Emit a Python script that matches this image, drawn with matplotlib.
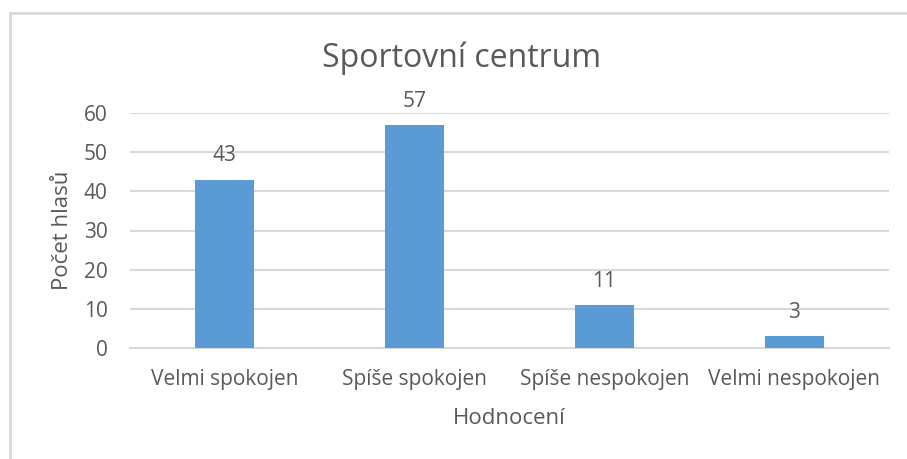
import matplotlib
matplotlib.use("Agg")
import matplotlib.pyplot as plt
from matplotlib.lines import Line2D

categories = ["Velmi spokojen", "Spíše spokojen", "Spíše nespokojen", "Velmi nespokojen"]
values = [43, 57, 11, 3]
yticks = [0, 10, 20, 30, 40, 50, 60]

plt.rcParams['font.family'] = ['Open Sans', 'DejaVu Sans']
W, H = 907, 459
fig = plt.figure(figsize=(W/100, H/100), dpi=100)
ax = fig.add_axes([130/W, 1-348/H, (889-130)/W, (348-113)/H])

bar_color = '#5b9bd5'
text_color = '#595959'
grid_color = '#d9d9d9'

x = list(range(len(categories)))
ax.bar(x, values, width=0.31, color=bar_color, zorder=3)
for xi, v in zip(x, values):
    ax.annotate(str(v), (xi, v), xytext=(0, 17), textcoords='offset points',
                ha='center', va='center', fontsize=15, color=text_color)

ax.set_xlim(-0.5, len(categories)-0.5)
ax.set_ylim(0, 60)
ax.set_yticks(yticks)
ax.set_xticks(x)
ax.set_xticklabels(categories)
ax.tick_params(axis='both', length=0, labelsize=15, labelcolor=text_color)
ax.tick_params(axis='y', pad=16)
ax.tick_params(axis='x', pad=15)
ax.grid(axis='y', color=grid_color, linewidth=1.5, zorder=0)
for s in ['top', 'right', 'left']:
    ax.spines[s].set_visible(False)
ax.spines['bottom'].set_color(grid_color)
ax.spines['bottom'].set_linewidth(1.5)

ax.set_xlabel("Hodnocení", fontsize=16, color=text_color)
ax.set_ylabel("Počet hlasů", fontsize=16, color=text_color)
ax.xaxis.set_label_coords(0.5, (348-418)/235)
ax.xaxis.label.set_va('center')
ax.yaxis.set_label_coords((62-130)/759, 0.5)
ax.yaxis.label.set_va('center')

fig.text(462/W, 1-58/H, "Sportovní centrum", ha='center', va='center', fontsize=23, color=text_color)

# chart border (top and left visible)
fig.add_artist(Line2D([9.5/W, 9.5/W], [0, 1-13/H], color=grid_color, linewidth=2, transform=fig.transFigure))
fig.add_artist(Line2D([9.5/W, 1], [1-13/H, 1-13/H], color=grid_color, linewidth=2, transform=fig.transFigure))

fig.savefig("out.png", dpi=100)
